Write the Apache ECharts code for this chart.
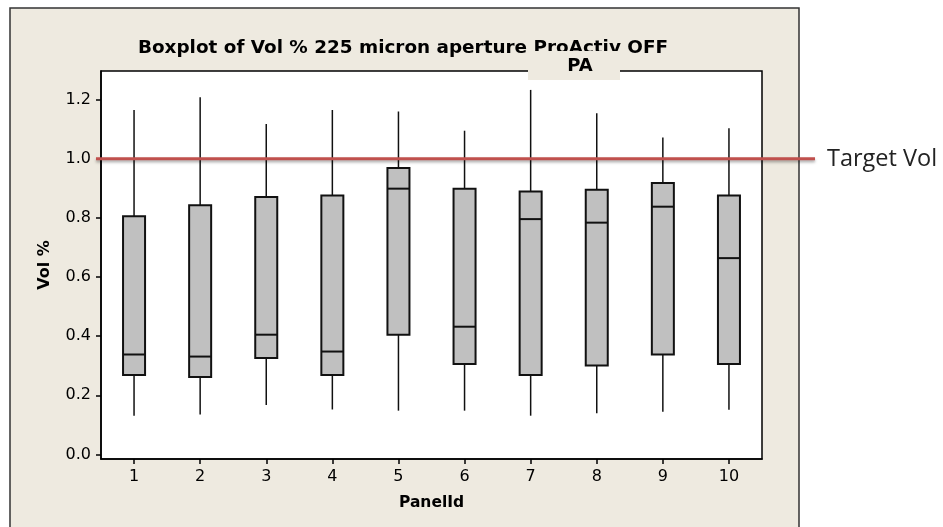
<!DOCTYPE html>
<html>
<head>
<meta charset="utf-8">
<script src="https://cdn.jsdelivr.net/npm/echarts@6/dist/echarts.min.js"></script>
<style>
html,body{margin:0;padding:0;background:#fff;}
#chart{width:943px;height:527px;}
</style>
</head>
<body>
<div id="chart"></div>
<script>
// Panel categories
const panelIds = ['1','2','3','4','5','6','7','8','9','10'];
// Boxplot statistics per panel (Vol %)
const whiskerLow  = [0.131, 0.135, 0.167, 0.152, 0.148, 0.148, 0.131, 0.139, 0.144, 0.151];
const q1Values    = [0.269, 0.262, 0.326, 0.269, 0.405, 0.306, 0.269, 0.301, 0.338, 0.306];
const medians     = [0.338, 0.331, 0.405, 0.348, 0.899, 0.432, 0.796, 0.784, 0.838, 0.664];
const q3Values    = [0.806, 0.843, 0.871, 0.876, 0.969, 0.899, 0.889, 0.895, 0.918, 0.876];
const whiskerHigh = [1.165, 1.208, 1.118, 1.165, 1.160, 1.095, 1.233, 1.154, 1.072, 1.103];
// Y tick labels
const yTicks = [0.0, 0.2, 0.4, 0.6, 0.8, 1.0, 1.2];
// Target line value
const targetVol = 1.0;

const titleText = 'Boxplot of Vol % 225 micron aperture ProActiv OFF';
const beige = '#EEEAE0';

const boxData = panelIds.map((p, i) => [i, whiskerLow[i], q1Values[i], medians[i], q3Values[i], whiskerHigh[i]]);

const chart = echarts.init(document.getElementById('chart'), null, {renderer: 'canvas'});

const option = {
  animation: false,
  backgroundColor: '#ffffff',
  textStyle: {fontFamily: 'DejaVu Sans'},
  title: {
    text: titleText,
    left: 398,
    textAlign: 'center',
    top: 34,
    textStyle: {fontFamily: 'DejaVu Sans', fontWeight: 'bold', fontSize: 18.4, color: '#000'}
  },
  grid: {
    left: 101, top: 71, right: 181, bottom: 68,
    show: true, backgroundColor: '#ffffff', borderColor: '#000', borderWidth: 1.5,
    containLabel: false
  },
  xAxis: {
    type: 'category',
    data: panelIds,
    boundaryGap: true,
    name: 'PanelId',
    nameLocation: 'middle',
    nameGap: 36,
    nameTextStyle: {fontFamily: 'DejaVu Sans', fontWeight: 'bold', fontSize: 15.5, color: '#000'},
    axisLine: {show: true, onZero: false, lineStyle: {color: '#000', width: 1.5}},
    axisTick: {show: true, alignWithLabel: true, length: 5, lineStyle: {color: '#000', width: 1.5}},
    axisLabel: {color: '#000', fontSize: 16, margin: 10, fontFamily: 'DejaVu Sans'},
    splitLine: {show: false}
  },
  yAxis: {
    type: 'value',
    min: -0.0155,
    max: 1.297,
    name: 'Vol %',
    nameLocation: 'middle',
    nameGap: 48,
    nameRotate: 90,
    nameTextStyle: {fontFamily: 'DejaVu Sans', fontWeight: 'bold', fontSize: 16, color: '#000'},
    axisLine: {show: true, onZero: false, lineStyle: {color: '#000', width: 1.5}},
    axisTick: {show: true, length: 5, customValues: yTicks, lineStyle: {color: '#000', width: 1.5}},
    axisLabel: {
      color: '#000', fontSize: 16, margin: 10, fontFamily: 'DejaVu Sans',
      customValues: yTicks,
      formatter: v => Number(v).toFixed(1)
    },
    splitLine: {show: false}
  },
  graphic: [
    {
      type: 'rect', z: -100, silent: true,
      shape: {x: 10, y: 8, width: 789, height: 530},
      style: {fill: beige, stroke: '#333', lineWidth: 1.5}
    },
    {
      type: 'rect', z: 100, silent: true,
      shape: {x: 528, y: 51, width: 92, height: 29},
      style: {fill: beige}
    },
    {
      type: 'text', z: 101, silent: true,
      x: 580, y: 66,
      style: {text: 'PA', fill: '#000', font: 'bold 18px "DejaVu Sans"', align: 'center', verticalAlign: 'middle'}
    }
  ],
  series: [
    {
      type: 'custom',
      name: 'Vol %',
      data: boxData,
      encode: {x: 0, y: [1, 2, 3, 4, 5]},
      clip: false,
      renderItem: function (params, api) {
        const x = api.value(0);
        const lo = api.coord([x, api.value(1)]);
        const q1 = api.coord([x, api.value(2)]);
        const md = api.coord([x, api.value(3)]);
        const q3 = api.coord([x, api.value(4)]);
        const hi = api.coord([x, api.value(5)]);
        const w = api.size([1, 0])[0] * 0.333;
        const cx = lo[0];
        const lineStyle = {stroke: '#111', lineWidth: 1.5, fill: null};
        return {
          type: 'group',
          children: [
            {type: 'line', shape: {x1: cx, y1: lo[1], x2: cx, y2: q1[1]}, style: lineStyle},
            {type: 'line', shape: {x1: cx, y1: q3[1], x2: cx, y2: hi[1]}, style: lineStyle},
            {type: 'rect', shape: {x: cx - w / 2, y: q3[1], width: w, height: q1[1] - q3[1]},
              style: {fill: '#C0C0C0', stroke: '#111', lineWidth: 2}},
            {type: 'line', shape: {x1: cx - w / 2, y1: md[1], x2: cx + w / 2, y2: md[1]}, style: {stroke: '#111', lineWidth: 2}}
          ]
        };
      }
    },
    {
      type: 'custom',
      name: 'Target Vol',
      data: [[0, targetVol]],
      encode: {x: 0, y: 1},
      clip: false,
      z: 5,
      renderItem: function (params, api) {
        const p = api.coord([api.value(0), api.value(1)]);
        const y = p[1];
        return {
          type: 'group',
          children: [
            {type: 'line', shape: {x1: 96, y1: y, x2: 815, y2: y},
              style: {stroke: '#C0504D', lineWidth: 3, shadowBlur: 3, shadowColor: 'rgba(0,0,0,0.35)', shadowOffsetY: 2}},
            {type: 'text', x: 827, y: y + 1,
              style: {text: 'Target Vol', fill: '#222', font: '23.5px "Open Sans"', align: 'left', verticalAlign: 'middle'}}
          ]
        };
      }
    }
  ]
};

chart.setOption(option);
</script>
</body>
</html>
